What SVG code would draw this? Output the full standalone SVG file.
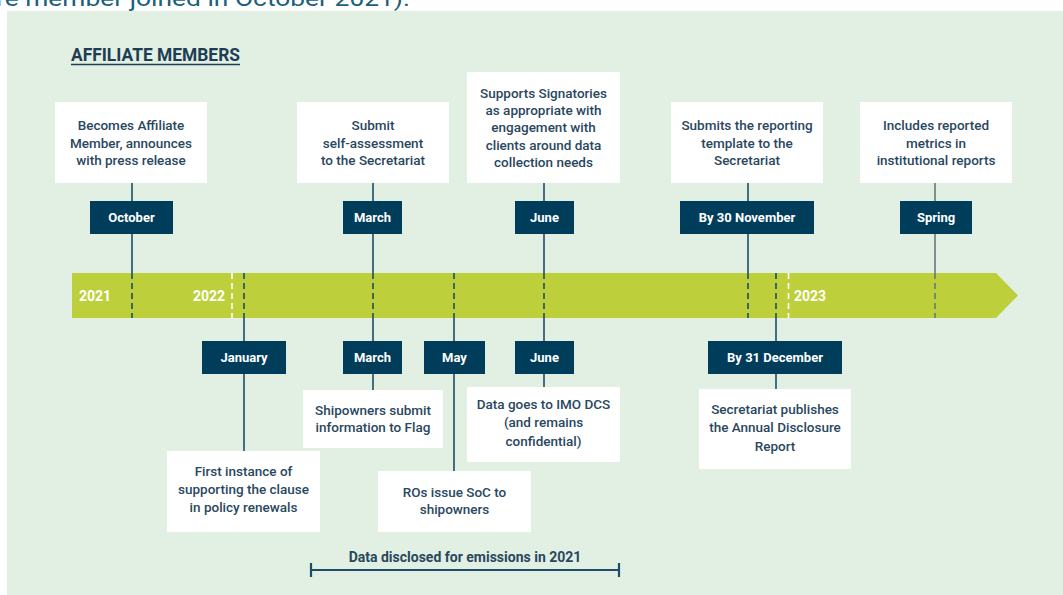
<svg xmlns="http://www.w3.org/2000/svg" width="1063" height="595" viewBox="0 0 1063 595">
<style>
.box{fill:#ffffff}
.lab{fill:#003d5b}
.bt{font-family:Roboto,"Liberation Sans",sans-serif;font-weight:500;font-size:13.5px;fill:#2a4760;text-anchor:middle}
.lt{font-family:Roboto,"Liberation Sans",sans-serif;font-weight:700;font-size:13px;fill:#ffffff;text-anchor:middle}
.yr{font-family:Roboto,"Liberation Sans",sans-serif;font-weight:700;font-size:14px;fill:#ffffff}
.ln{stroke:#1d4d68;stroke-width:1.6;fill:none}
.dl{stroke:#1d4d68;stroke-width:1.6;stroke-dasharray:6 4;fill:none}
.wd{stroke:#ffffff;stroke-width:1.6;stroke-dasharray:6 4;fill:none}
.gl{stroke:#66787c;stroke-width:1.6;fill:none}
.gd{stroke:#66787c;stroke-width:1.6;stroke-dasharray:6 4;fill:none}
</style>
<rect x="0" y="0" width="1063" height="595" fill="#ffffff"/>
<text x="-4" y="6" font-family="Roboto,'Liberation Sans',sans-serif" font-size="22" fill="#1b5f7c" textLength="414" lengthAdjust="spacingAndGlyphs">re member joined in October 2021).</text>
<rect x="7" y="11" width="1056" height="584" fill="#e1f0e3"/>
<g id="title">
<text x="71" y="61" font-family="Roboto,'Liberation Sans',sans-serif" font-weight="700" font-size="18" fill="#1e3d55" textLength="169" lengthAdjust="spacingAndGlyphs">AFFILIATE MEMBERS</text>
<line x1="71" y1="64.5" x2="240" y2="64.5" stroke="#1e3d55" stroke-width="1.6"/>
</g>
<g id="timeline">
<path d="M72 273 H996 L1018 295.5 L996 318 H72 Z" fill="#bdd03c"/>
<text class="yr" x="79" y="301">2021</text>
<text class="yr" x="193" y="301">2022</text>
<text class="yr" x="794" y="301">2023</text>
</g>
<g id="connectors">
<line class="ln" x1="132" y1="183" x2="132" y2="273"/>
<line class="dl" x1="132" y1="273" x2="132" y2="318"/>
<line class="dl" x1="244" y1="273" x2="244" y2="318"/>
<line class="ln" x1="244" y1="318" x2="244" y2="451"/>
<line class="ln" x1="373" y1="183" x2="373" y2="273"/>
<line class="dl" x1="373" y1="273" x2="373" y2="318"/>
<line class="ln" x1="373" y1="318" x2="373" y2="390"/>
<line class="dl" x1="454" y1="273" x2="454" y2="318"/>
<line class="ln" x1="454" y1="318" x2="454" y2="471"/>
<line class="ln" x1="544" y1="183" x2="544" y2="273"/>
<line class="dl" x1="544" y1="273" x2="544" y2="318"/>
<line class="ln" x1="544" y1="318" x2="544" y2="387"/>
<line class="ln" x1="748" y1="183" x2="748" y2="273"/>
<line class="dl" x1="748" y1="273" x2="748" y2="318"/>
<line class="dl" x1="776" y1="273" x2="776" y2="318"/>
<line class="ln" x1="776" y1="318" x2="776" y2="389"/>
<line class="gl" x1="935" y1="183" x2="935" y2="273"/>
<line class="gd" x1="935" y1="273" x2="935" y2="318"/>
<line class="wd" x1="232" y1="273" x2="232" y2="318"/>
<line class="wd" x1="788.5" y1="273" x2="788.5" y2="318"/>
<path d="M311 570 H619 M311 563 V577 M619 563 V577" stroke="#1d4d68" stroke-width="2.2" fill="none"/>
</g>
<g id="n-becomes"><rect class="box" x="55" y="102" width="152" height="81"/>
<text class="bt" x="131" y="129.5">Becomes Affiliate</text><text class="bt" x="131" y="147.5">Member, announces</text><text class="bt" x="131" y="164.5">with press release</text></g>
<g id="n-submit"><rect class="box" x="297" y="102" width="152" height="81"/>
<text class="bt" x="373" y="129.5">Submit</text><text class="bt" x="373" y="147.5">self-assessment</text><text class="bt" x="373" y="164.5">to the Secretariat</text></g>
<g id="n-supports"><rect class="box" x="467" y="72" width="153" height="111"/>
<text class="bt" x="543.5" y="97.5">Supports Signatories</text><text class="bt" x="543.5" y="114.5">as appropriate with</text><text class="bt" x="543.5" y="131.5">engagement with</text><text class="bt" x="543.5" y="149.5">clients around data</text><text class="bt" x="543.5" y="166.5">collection needs</text></g>
<g id="n-submits"><rect class="box" x="671" y="102" width="152" height="81"/>
<text class="bt" x="747" y="129.5">Submits the reporting</text><text class="bt" x="747" y="147.5">template to the</text><text class="bt" x="747" y="164.5">Secretariat</text></g>
<g id="n-includes"><rect class="box" x="860" y="102" width="152" height="81"/>
<text class="bt" x="936" y="129.5">Includes reported</text><text class="bt" x="936" y="147.5">metrics in</text><text class="bt" x="936" y="164.5">institutional reports</text></g>
<g id="l-october"><rect class="lab" x="90" y="201" width="83" height="33"/><text class="lt" x="131.5" y="222">October</text></g>
<g id="l-march1"><rect class="lab" x="343" y="201" width="59" height="33"/><text class="lt" x="372.5" y="222">March</text></g>
<g id="l-june1"><rect class="lab" x="515" y="201" width="59" height="33"/><text class="lt" x="544.5" y="222">June</text></g>
<g id="l-nov"><rect class="lab" x="680" y="201" width="134" height="33"/><text class="lt" x="747" y="222">By 30 November</text></g>
<g id="l-spring"><rect class="lab" x="900" y="201" width="72" height="33"/><text class="lt" x="936" y="222">Spring</text></g>
<g id="l-january"><rect class="lab" x="202" y="341" width="84" height="33"/><text class="lt" x="244" y="362">January</text></g>
<g id="l-march2"><rect class="lab" x="343" y="341" width="59" height="33"/><text class="lt" x="372.5" y="362">March</text></g>
<g id="l-may"><rect class="lab" x="424" y="341" width="61" height="33"/><text class="lt" x="454.5" y="362">May</text></g>
<g id="l-june2"><rect class="lab" x="515" y="341" width="59" height="33"/><text class="lt" x="544.5" y="362">June</text></g>
<g id="l-dec"><rect class="lab" x="708" y="341" width="134" height="33"/><text class="lt" x="775" y="362">By 31 December</text></g>
<g id="n-shipowners"><rect class="box" x="303" y="390" width="140" height="58"/>
<text class="bt" x="373" y="414.5">Shipowners submit</text><text class="bt" x="373" y="431.5">information to Flag</text></g>
<g id="n-first"><rect class="box" x="167" y="451" width="153" height="81"/>
<text class="bt" x="243.5" y="475.5">First instance of</text><text class="bt" x="243.5" y="493.5">supporting the clause</text><text class="bt" x="243.5" y="511.5">in policy renewals</text></g>
<g id="n-ros"><rect class="box" x="378" y="471" width="153" height="61"/>
<text class="bt" x="454.5" y="496.5">ROs issue SoC to</text><text class="bt" x="454.5" y="513.5">shipowners</text></g>
<g id="n-datagoes"><rect class="box" x="467" y="387" width="153" height="75"/>
<text class="bt" x="543.5" y="408.5">Data goes to IMO DCS</text><text class="bt" x="543.5" y="426.5">(and remains</text><text class="bt" x="543.5" y="445.5">confidential)</text></g>
<g id="n-secretariat"><rect class="box" x="699" y="389" width="152" height="80"/>
<text class="bt" x="775" y="413.5">Secretariat publishes</text><text class="bt" x="775" y="431.5">the Annual Disclosure</text><text class="bt" x="775" y="450.5">Report</text></g>
<g id="n-disclosed"><text x="465" y="562" font-family="Roboto,'Liberation Sans',sans-serif" font-weight="700" font-size="14" fill="#2a4760" text-anchor="middle">Data disclosed for emissions in 2021</text></g>
</svg>
